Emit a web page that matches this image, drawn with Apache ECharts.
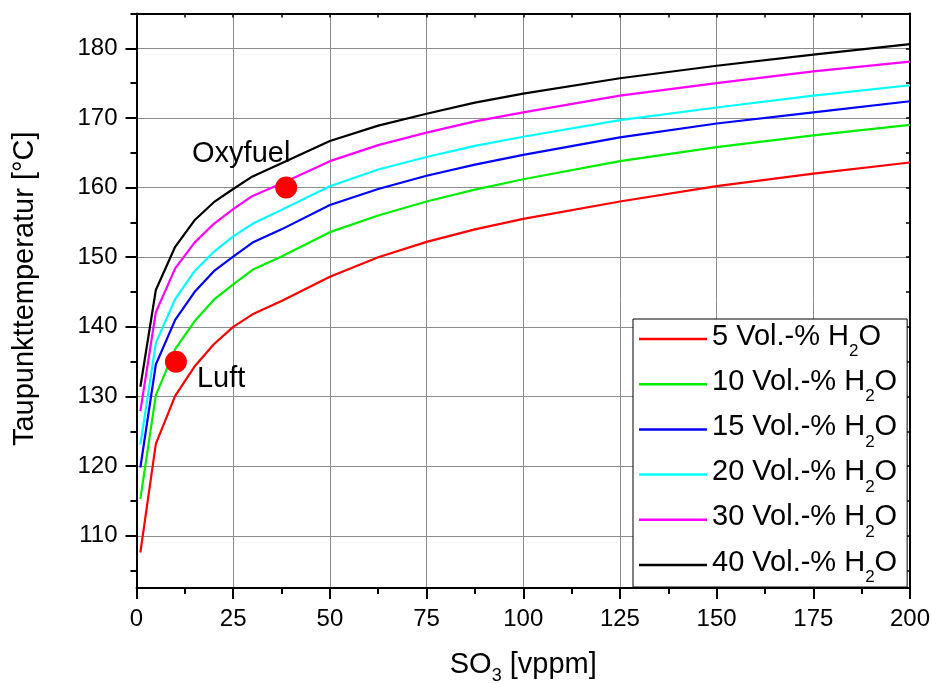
<!DOCTYPE html>
<html>
<head>
<meta charset="utf-8">
<script src="https://cdn.jsdelivr.net/npm/echarts@6/dist/echarts.min.js"></script>
<style>
html,body{margin:0;padding:0;background:#fff;}
#chart{width:931px;height:684px;}
</style>
</head>
<body>
<div id="chart"></div>
<script>
// SO3 concentration [vppm]
const so3 = [1, 5, 10, 15, 20, 25, 30, 37.5, 50, 62.5, 75, 87.5, 100, 125, 150, 175, 200];
// Dew point temperature [°C] for each H2O level
const h2o5  = [107.6, 123.2, 130.1, 134.3, 137.5, 140.0, 141.8, 143.7, 147.2, 150.0, 152.2, 154.0, 155.5, 158.0, 160.2, 162.0, 163.6];
const h2o10 = [115.3, 130.2, 136.8, 140.8, 143.9, 146.1, 148.2, 150.1, 153.6, 156.0, 158.0, 159.7, 161.2, 163.8, 165.8, 167.5, 169.0];
const h2o15 = [119.8, 134.6, 141.0, 145.0, 148.0, 150.1, 152.1, 154.0, 157.5, 159.8, 161.7, 163.3, 164.7, 167.2, 169.2, 170.8, 172.4];
const h2o20 = [123.1, 137.7, 144.0, 148.0, 150.8, 153.0, 154.8, 156.8, 160.2, 162.6, 164.4, 166.0, 167.3, 169.7, 171.5, 173.2, 174.7];
const h2o30 = [127.9, 142.1, 148.4, 152.1, 154.8, 156.9, 158.8, 160.6, 163.8, 166.1, 167.9, 169.5, 170.8, 173.2, 175.0, 176.7, 178.1];
const h2o40 = [131.4, 145.3, 151.5, 155.3, 157.9, 159.8, 161.6, 163.5, 166.7, 168.9, 170.6, 172.2, 173.5, 175.7, 177.5, 179.1, 180.6];
const h2oLevels = ['5', '10', '15', '20', '30', '40'];
const seriesValues = [h2o5, h2o10, h2o15, h2o20, h2o30, h2o40];
const seriesColors = ['#ff0000', '#00ee00', '#0000ff', '#00ffff', '#ff00ff', '#000000'];
// Marked operating points
const pointNames = ['Luft', 'Oxyfuel'];
const pointX = [10.2, 38.7];
const pointY = [135, 160];
// Axis ticks
const yTickLabels = [110, 120, 130, 140, 150, 160, 170, 180];
const yMinorTicks = [105, 115, 125, 135, 145, 155, 165, 175, 185];
const yAllTicks = [105, 110, 115, 120, 125, 130, 135, 140, 145, 150, 155, 160, 165, 170, 175, 180, 185];

const FONT = "'Liberation Sans', Arial, sans-serif";
const seriesNames = h2oLevels.map(l => l + ' Vol.-% H2O');

const lineSeries = seriesValues.map((vals, i) => ({
  name: seriesNames[i],
  type: 'line',
  xAxisIndex: 0,
  yAxisIndex: 0,
  data: so3.map((x, j) => [x, vals[j]]),
  showSymbol: false,
  symbol: 'none',
  lineStyle: { color: seriesColors[i], width: 2.2 },
  itemStyle: { color: seriesColors[i] },
  z: 3
}));

const pointSeries = {
  type: 'scatter',
  xAxisIndex: 0,
  yAxisIndex: 0,
  symbolSize: 22,
  itemStyle: { color: '#ff0000', opacity: 1 },
  z: 5,
  data: pointNames.map((n, i) => ({
    name: n,
    value: [pointX[i], pointY[i]],
    label: i === 0
      ? { show: true, position: 'right', distance: 10, offset: [0, 17] }
      : { show: true, position: 'top', distance: 8, offset: [-45, 0] }
  })),
  label: {
    formatter: '{b}',
    fontFamily: FONT,
    fontSize: 29,
    color: '#000'
  }
};

const option = {
  animation: false,
  backgroundColor: '#fff',
  grid: { left: 136.5, right: 21, top: 13.5, bottom: 96, containLabel: false, outerBoundsMode: 'none' },
  legend: {
    data: seriesNames,
    orient: 'vertical',
    left: 633,
    top: 319,
    selectedMode: false,
    backgroundColor: '#fff',
    borderColor: '#000',
    borderWidth: 1,
    padding: [3, 10, 1, 6],
    itemGap: 7.2,
    itemWidth: 68,
    itemHeight: 2.5,
    icon: 'rect',
    formatter: function (name) {
      const pre = name.replace(' H2O', '');
      return '{a|' + pre + ' H}{s|2}{a|O}';
    },
    textStyle: {
      fontFamily: FONT,
      color: '#000',
      rich: {
        a: { fontFamily: FONT, fontSize: 29, lineHeight: 34, verticalAlign: 'top', color: '#000' },
        s: { fontFamily: FONT, fontSize: 17, lineHeight: 17, padding: [21, 0, 0, 0], verticalAlign: 'top', color: '#000' }
      }
    }
  },
  xAxis: [
    {
      type: 'value',
      position: 'bottom',
      min: 0, max: 200, interval: 25,
      name: '{a|SO}{s|3}{a| [vppm]}',
      nameLocation: 'middle',
      nameGap: 60,
      nameTextStyle: {
        rich: {
          a: { fontFamily: FONT, fontSize: 29, lineHeight: 34, color: '#000' },
          s: { fontFamily: FONT, fontSize: 18, lineHeight: 6, padding: [22, 0, 0, 0], color: '#000' }
        }
      },
      axisLine: { show: true, onZero: false, lineStyle: { color: '#000', width: 2 } },
      axisTick: { show: true, inside: false, length: 11, lineStyle: { color: '#000', width: 2 } },
      minorTick: { show: true, splitNumber: 2, length: 6, lineStyle: { color: '#000', width: 2 } },
      axisLabel: { show: true, margin: 19, fontFamily: FONT, fontSize: 24, color: '#000' },
      splitLine: { show: true, lineStyle: { color: '#8c8c8c', width: 1 } },
      minorSplitLine: { show: false }
    },
    {
      type: 'value',
      position: 'top',
      min: 0, max: 200, interval: 12.5,
      axisLine: { show: true, onZero: false, lineStyle: { color: '#000', width: 2 } },
      axisTick: { show: true, inside: true, length: 4, lineStyle: { color: '#000', width: 1.5 } },
      axisLabel: { show: false },
      splitLine: { show: false }
    }
  ],
  yAxis: [
    {
      type: 'value',
      position: 'left',
      min: 102.5, max: 185,
      name: 'Taupunkttemperatur [°C]',
      nameLocation: 'middle',
      nameGap: 97,
      nameTextStyle: { fontFamily: FONT, fontSize: 29, color: '#000', padding: [0, 0, 0, 24] },
      axisLine: { show: true, onZero: false, lineStyle: { color: '#000', width: 2 } },
      axisTick: { show: true, inside: false, length: 11, customValues: yTickLabels, lineStyle: { color: '#000', width: 2 } },
      axisLabel: { show: true, margin: 19, customValues: yTickLabels, fontFamily: FONT, fontSize: 24, color: '#000' },
      splitLine: { show: true, lineStyle: { color: '#8c8c8c', width: 1 } }
    },
    {
      type: 'value',
      position: 'left',
      min: 102.5, max: 185,
      axisLine: { show: false },
      axisTick: { show: true, inside: false, length: 6, customValues: yMinorTicks, lineStyle: { color: '#000', width: 2 } },
      axisLabel: { show: false },
      splitLine: { show: false }
    },
    {
      type: 'value',
      position: 'right',
      min: 102.5, max: 185,
      axisLine: { show: true, onZero: false, lineStyle: { color: '#000', width: 2 } },
      axisTick: { show: true, inside: true, length: 4, customValues: yAllTicks, lineStyle: { color: '#000', width: 1.5 } },
      axisLabel: { show: false },
      splitLine: { show: false }
    }
  ],
  series: lineSeries.concat([pointSeries])
};

const chart = echarts.init(document.getElementById('chart'), null, { renderer: 'canvas' });
chart.setOption(option);
</script>
</body>
</html>
